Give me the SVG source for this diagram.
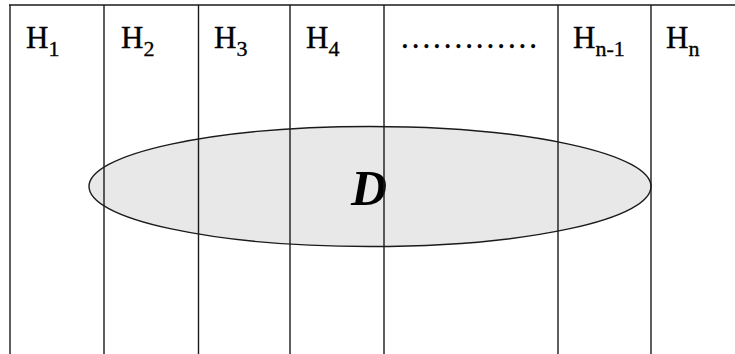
<svg xmlns="http://www.w3.org/2000/svg" width="735" height="354" viewBox="0 0 735 354">
<style>
.ln{stroke:#1a1a1a;stroke-width:1.4;fill:none}
.lb{font-family:"Liberation Serif","Times New Roman",serif;font-size:31px;fill:#000;stroke:#000;stroke-width:0.35}
.sb{font-size:22px}
</style>
<rect width="735" height="354" fill="#fff"/>
<g id="region-D">
<ellipse cx="370" cy="186.5" rx="281" ry="60" fill="#e8e8e8" stroke="#1a1a1a" stroke-width="1.4"/>
<text x="369" y="205" text-anchor="middle" font-family="Liberation Serif, serif" font-size="50" font-weight="bold" font-style="italic">D</text>
</g>
<g id="connectors">
<line class="ln" x1="9" y1="5" x2="735" y2="5"/>
<line class="ln" x1="10" y1="5" x2="10" y2="354"/>
<line class="ln" x1="104" y1="5" x2="104" y2="354"/>
<line class="ln" x1="198.5" y1="5" x2="198.5" y2="354"/>
<line class="ln" x1="290" y1="5" x2="290" y2="354"/>
<line class="ln" x1="384" y1="5" x2="384" y2="354"/>
<line class="ln" x1="558" y1="5" x2="558" y2="354"/>
<line class="ln" x1="651" y1="5" x2="651" y2="354"/>
</g>
<g id="H1"><text class="lb" x="26" y="48">H<tspan class="sb" dy="8">1</tspan></text></g>
<g id="H2"><text class="lb" x="121" y="48">H<tspan class="sb" dy="8">2</tspan></text></g>
<g id="H3"><text class="lb" x="214" y="48">H<tspan class="sb" dy="8">3</tspan></text></g>
<g id="H4"><text class="lb" x="306" y="48">H<tspan class="sb" dy="8">4</tspan></text></g>
<g id="dots"><text class="lb" x="401" y="48" textLength="136" lengthAdjust="spacing">.............</text></g>
<g id="Hn-1"><text class="lb" x="573" y="48">H<tspan class="sb" dy="8">n-1</tspan></text></g>
<g id="Hn"><text class="lb" x="666" y="48">H<tspan class="sb" dy="8">n</tspan></text></g>
</svg>
